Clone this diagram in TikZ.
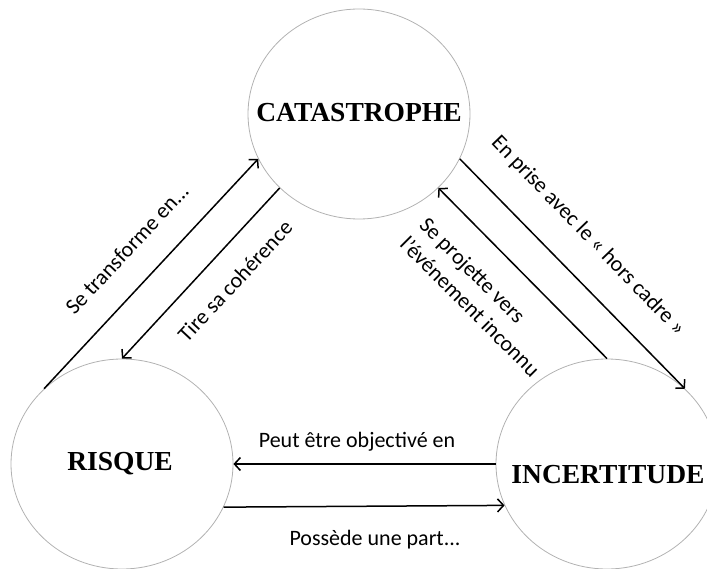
\documentclass[tikz,border=0pt]{standalone}
\usepackage{fontspec}
\setmainfont{Liberation Serif}
\newfontfamily\calib{Carlito}
\usetikzlibrary{arrows.meta,shapes.geometric}
\begin{document}
\begin{tikzpicture}[x=1pt,y=-1pt,
  bubble/.style={ellipse,draw=gray!60,line width=0.8pt,minimum width=222pt,minimum height=210pt,inner sep=0pt},
  title/.style={font=\fontsize{27.5}{32}\selectfont\bfseries,inner sep=0pt},
  lbl/.style={font=\calib\fontsize{22}{27.6}\selectfont,inner sep=0pt},
  link/.style={line width=1.5pt,-{Straight Barb[length=6pt,width=13pt]}}]
\useasboundingbox (0,0) rectangle (707,569);
\node[bubble] (cat) at (359,114) {};
\node[bubble] (ris) at (122,464) {};
\node[bubble] (inc) at (607,464) {};
\node[title] (catT) at (359,113) {CATASTROPHE};
\node[title] (risT) at (120,464) {RISQUE};
\node[title] (incT) at (608,475) {INCERTITUDE};
\draw[link] (ris.136) -- (cat.204);
\draw[link] (cat.223) -- (ris.90);
\draw[link] (cat.336) -- (inc.44);
\draw[link] (inc.90) -- (cat.317);
\draw[link] (inc.180) -- (ris.0);
\draw[link] (ris.337) -- (inc.202);
\node[lbl,rotate=47] (l1) at (127,249) {Se transforme en...};
\node[lbl,rotate=47] (l2) at (235,281) {Tire sa cohérence};
\node[lbl,rotate=-46] (l3) at (588,236) {En prise avec le « hors cadre »};
\node[lbl,rotate=-45,align=left] (l4) at (480,297) {Se projette vers\\l’événement inconnu};
\node[lbl,anchor=base] (l5) at (357,447) {Peut être objectivé en};
\node[lbl,anchor=base] (l6) at (375,545) {Possède une part...};
\end{tikzpicture}
\end{document}
